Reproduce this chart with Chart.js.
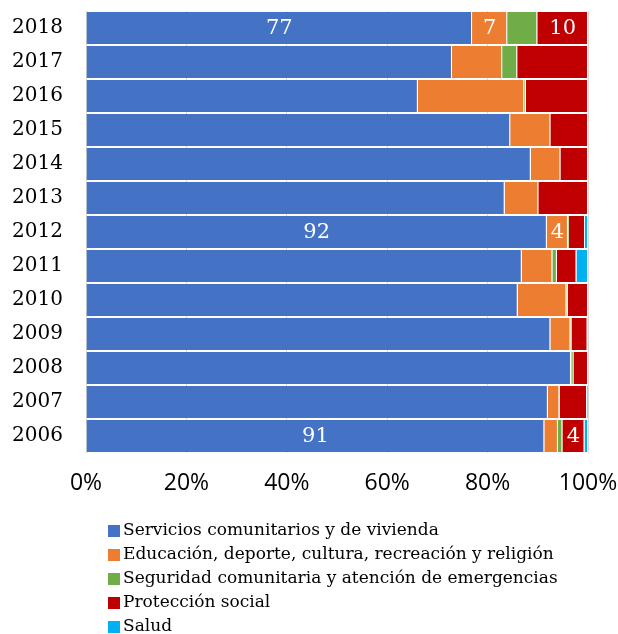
<!DOCTYPE html>
<html>
<head>
<meta charset="utf-8">
<script src="https://cdn.jsdelivr.net/npm/chart.js@4/dist/chart.umd.min.js"></script>
<style>
  html, body { margin: 0; padding: 0; background: #fff; }
  #wrap { width: 618px; height: 634px; }
</style>
</head>
<body>
<div id="wrap"><canvas id="myChart" width="618" height="634"></canvas></div>
<script>
var years = ["2018","2017","2016","2015","2014","2013","2012","2011","2010","2009","2008","2007","2006"];
var servicios  = [76.9, 72.9, 66.1, 84.5, 88.6, 83.4, 91.8, 86.8, 86.0, 92.5, 96.6, 92.0, 91.3];
var educacion  = [7.0, 10.0, 21.2, 8.0, 5.9, 6.7, 4.2, 6.1, 9.7, 4.0, 0.2, 2.3, 2.7];
var seguridad  = [6.0, 3.0, 0.3, 0, 0, 0, 0.2, 0.9, 0.3, 0.2, 0.3, 0.1, 0.9];
var proteccion = [10.1, 14.1, 12.4, 7.5, 5.5, 9.9, 3.2, 3.9, 4.0, 3.2, 2.9, 5.4, 4.4];
var salud      = [0, 0, 0, 0, 0, 0, 0.6, 2.3, 0, 0.1, 0, 0.2, 0.7];
var xTicks = [0, 20, 40, 60, 80, 100];

// which segments carry a value label: [year, dataset index]
var shownLabels = [["2018",0],["2018",1],["2018",3],["2012",0],["2012",1],["2006",0],["2006",3]];

var serif = "'DejaVu Serif', 'Liberation Serif', serif";
var sans = "'Open Sans', 'DejaVu Sans', sans-serif";

var seriesNames = ["Servicios comunitarios y de vivienda",
  "Educación, deporte, cultura, recreación y religión",
  "Seguridad comunitaria y atención de emergencias",
  "Protección social",
  "Salud"];
var seriesColors = ["#4472C4", "#ED7D31", "#70AD47", "#C00000", "#00B0F0"];
var seriesData = [servicios, educacion, seguridad, proteccion, salud];

var datasets = seriesData.map(function(d, i){
  return {
    label: seriesNames[i],
    data: d,
    backgroundColor: seriesColors[i],
    borderColor: "rgba(255,255,255,0.55)",
    borderWidth: {top: 0, bottom: 0, left: 0, right: 1},
    borderSkipped: false
  };
});

// no extra room for overhanging tick labels
function noPad(s){
  s.paddingTop = 0; s.paddingBottom = 0; s.paddingLeft = 0; s.paddingRight = 0;
}

// white numbers inside a few segments
var valueLabels = {
  id: "valueLabels",
  afterDatasetsDraw: function(chart){
    var ctx = chart.ctx;
    ctx.save();
    ctx.fillStyle = "#fff";
    ctx.font = "21px " + serif;
    ctx.textAlign = "center";
    ctx.textBaseline = "middle";
    shownLabels.forEach(function(s){
      var idx = years.indexOf(s[0]);
      var el = chart.getDatasetMeta(s[1]).data[idx];
      var v = chart.data.datasets[s[1]].data[idx];
      var cx = (el.x + el.base) / 2;
      ctx.fillText(String(Math.round(v)), cx, el.y + 1);
    });
    ctx.restore();
  }
};

// one legend entry per line, below the axis
var stackedLegend = {
  id: "stackedLegend",
  afterDraw: function(chart){
    var ctx = chart.ctx;
    ctx.save();
    ctx.font = "17px " + serif;
    ctx.textBaseline = "middle";
    ctx.textAlign = "left";
    chart.data.datasets.forEach(function(ds, i){
      var y = 531 + i * 24;
      ctx.fillStyle = ds.backgroundColor;
      ctx.fillRect(108, y - 6, 12, 12);
      ctx.fillStyle = "#000";
      ctx.fillText(ds.label, 123, y);
    });
    ctx.restore();
  }
};

var ctx = document.getElementById("myChart").getContext("2d");
var myChart = new Chart(ctx, {
  type: "bar",
  data: { labels: years, datasets: datasets },
  options: {
    indexAxis: "y",
    responsive: false,
    animation: false,
    layout: { padding: { top: 11, right: 30, bottom: 136, left: 0 } },
    datasets: { bar: { barPercentage: 1, categoryPercentage: 0.94 } },
    plugins: { legend: { display: false }, tooltip: { enabled: false } },
    scales: {
      x: {
        stacked: true, min: 0, max: 100,
        afterBuildTicks: function(s){ s.ticks = xTicks.map(function(v){ return {value: v}; }); },
        afterFit: function(s){ s.height = 45; noPad(s); },
        grid: { color: "#d9d9d9", drawTicks: false },
        border: { display: false },
        ticks: { padding: 17, color: "#000", font: { family: sans, size: 23 },
          callback: function(v){ return v + "%"; } }
      },
      y: {
        stacked: true,
        afterFit: function(s){ s.width = 86; noPad(s); },
        grid: { display: false, drawTicks: false },
        border: { display: false },
        ticks: { padding: 23, color: "#000", font: { family: serif, size: 20 } }
      }
    }
  },
  plugins: [valueLabels, stackedLegend]
});
</script>
</body>
</html>
